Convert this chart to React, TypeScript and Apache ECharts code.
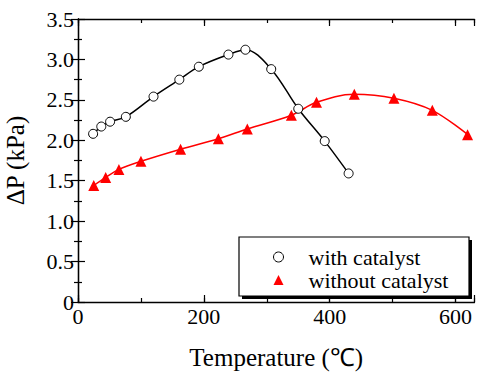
import React, { useEffect, useRef } from "react";
import * as echarts from "echarts";

const withTemp = [24, 37, 51, 76, 120, 161, 192, 239, 266, 307, 350, 392, 430];
const withDP = [2.08, 2.17, 2.23, 2.29, 2.54, 2.75, 2.91, 3.06, 3.12, 2.88, 2.39, 1.99, 1.59];
const withoutTemp = [25, 44, 65, 100, 163, 223, 269, 339, 379, 439, 502, 563, 619];
const withoutDP = [1.44, 1.54, 1.64, 1.74, 1.89, 2.02, 2.14, 2.31, 2.47, 2.57, 2.52, 2.37, 2.07];
const seriesNames = ["with catalyst", "without catalyst"];
const xLabels = [0, 200, 400, 600];
const yLabels = [0, 0.5, 1, 1.5, 2, 2.5, 3, 3.5];

const FONT = "'Liberation Serif', 'Times New Roman', serif";

export default function App() {
  const ref = useRef<HTMLDivElement>(null);
  useEffect(() => {
    if (!ref.current) return;
    const chart = echarts.init(ref.current, null, { renderer: "svg" });
    const axisLine = { show: true, lineStyle: { color: "#000", width: 1.3 } };
    const xCommon = { type: "value", min: 0, max: 630, splitLine: { show: false } };
    const yCommon = { type: "value", min: 0, max: 3.5, interval: 0.5, splitLine: { show: false } };
    const major = { show: true, inside: true, length: 7, lineStyle: { color: "#000", width: 1.2 } };
    const minor = { show: true, inside: true, length: 4, lineStyle: { color: "#000", width: 1.2 } };
    chart.setOption({
      animation: false,
      backgroundColor: "#fff",
      textStyle: { fontFamily: FONT },
      grid: { left: 78, top: 19, right: 2.5, bottom: 70, outerBoundsMode: "none", containLabel: false },
      xAxis: [
        {
          ...xCommon,
          position: "bottom",
          interval: 200,
          axisLine,
          axisTick: major,
          axisLabel: {
            margin: 3,
            fontFamily: FONT,
            fontSize: 22,
            color: "#000",
            formatter: (v: number) => (xLabels.includes(v) ? String(v) : ""),
          },
          name: "Temperature (℃)",
          nameLocation: "middle",
          nameGap: 43,
          nameTextStyle: { fontFamily: FONT, fontSize: 25, color: "#000" },
        },
        {
          ...xCommon,
          position: "bottom",
          interval: 100,
          axisLine: { show: false },
          axisTick: minor,
          axisLabel: { show: false },
        },
        {
          ...xCommon,
          position: "top",
          interval: 200,
          axisLine,
          axisTick: major,
          axisLabel: { show: false },
        },
        {
          ...xCommon,
          position: "top",
          interval: 100,
          axisLine: { show: false },
          axisTick: minor,
          axisLabel: { show: false },
        },
      ],
      yAxis: [
        {
          ...yCommon,
          position: "left",
          axisLine,
          axisTick: major,
          minorTick: { ...minor, splitNumber: 2 },
          axisLabel: {
            margin: 4,
            fontFamily: FONT,
            fontSize: 22,
            color: "#000",
            formatter: (v: number) => {
              const hit = yLabels.find((t) => Math.abs(t - v) < 1e-6);
              if (hit === undefined) return "";
              return hit === 0 ? "0" : hit.toFixed(1);
            },
          },
          name: "ΔP (kPa)",
          nameLocation: "middle",
          nameGap: 50,
          nameTextStyle: { fontFamily: FONT, fontSize: 25, color: "#000" },
        },
        {
          ...yCommon,
          position: "right",
          axisLine,
          axisTick: major,
          minorTick: { ...minor, splitNumber: 2 },
          axisLabel: { show: false },
        },
      ],
      legend: {
        orient: "vertical",
        left: 273,
        top: 246,
        padding: 0,
        itemWidth: 10,
        itemHeight: 10,
        itemGap: 1,
        z: 10,
        textStyle: {
          fontFamily: FONT,
          fontSize: 22,
          lineHeight: 21,
          color: "#000",
          padding: [0, 0, 0, 20],
        },
        data: [
          { name: seriesNames[0], icon: "circle", itemStyle: { borderWidth: 1 } },
          { name: seriesNames[1], icon: "triangle" },
        ],
      },
      graphic: [
        {
          type: "rect",
          z: 5,
          shape: { x: 242, y: 240, width: 230, height: 59 },
          style: { fill: "#000" },
        },
        {
          type: "rect",
          z: 6,
          shape: { x: 239, y: 237, width: 230, height: 59 },
          style: { fill: "#fff", stroke: "#000", lineWidth: 1.2 },
        },
      ],
      series: [
        {
          name: seriesNames[0],
          type: "line",
          xAxisIndex: 0,
          yAxisIndex: 0,
          smooth: 0.35,
          data: withTemp.map((t, i) => [t, withDP[i]]),
          symbol: "circle",
          symbolSize: 9,
          lineStyle: { color: "#000", width: 1.5 },
          itemStyle: { color: "#fff", borderColor: "#000", borderWidth: 1 },
        },
        {
          name: seriesNames[1],
          type: "line",
          xAxisIndex: 0,
          yAxisIndex: 0,
          smooth: 0.35,
          data: withoutTemp.map((t, i) => [t, withoutDP[i]]),
          symbol: "triangle",
          symbolSize: 11,
          lineStyle: { color: "#ff0000", width: 1.5 },
          itemStyle: { color: "#ff0000" },
        },
      ],
    });
    return () => chart.dispose();
  }, []);
  return (
    <div
      ref={ref}
      style={{ position: "fixed", left: 0, top: 0, width: 477, height: 372 }}
    />
  );
}
